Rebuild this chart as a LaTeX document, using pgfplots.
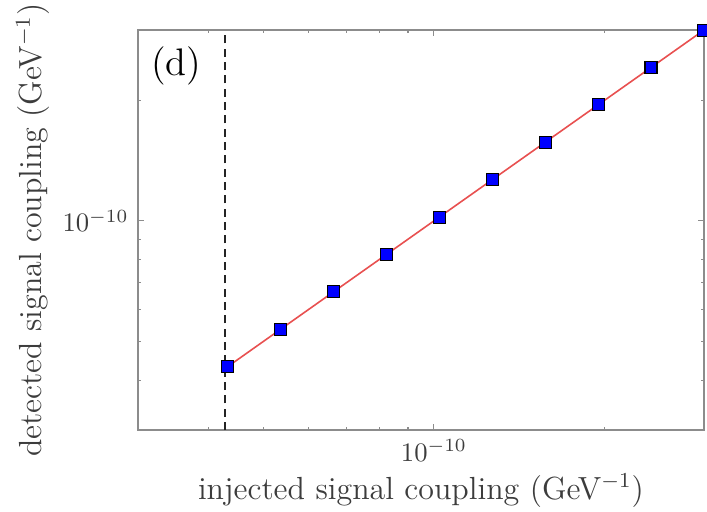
\documentclass[border=0pt]{standalone}
\usepackage{pgfplots}
\pgfplotsset{compat=1.18}
\definecolor{axgray}{RGB}{140,140,140}
\definecolor{fitred}{RGB}{232,80,80}
\definecolor{txtgray}{RGB}{60,60,60}
\begin{document}
\begin{tikzpicture}
\begin{axis}[
  scale only axis,
  width=212.25pt, height=150pt,
  xmode=log, ymode=log,
  xmin=3e-11, xmax=3e-10,
  ymin=3e-11, ymax=3e-10,
  axis line style={axgray, line width=0.5pt},
  tick style={axgray, line width=0.4pt},
  major tick length=2.4pt,
  minor tick length=1.3pt,
  tick align=inside,
  xtick={1e-10}, ytick={1e-10},
  minor xtick={4e-11,5e-11,6e-11,7e-11,8e-11,9e-11,2e-10},
  minor ytick={4e-11,5e-11,6e-11,7e-11,8e-11,9e-11,2e-10},
  xticklabels={$10^{-10}$}, yticklabels={$10^{-10}$},
  ticklabel style={txtgray},
  xlabel={injected signal coupling (GeV$^{-1}$)},
  ylabel={detected signal coupling (GeV$^{-1}$)},
  label style={txtgray, font=\large},
  xlabel style={yshift=2pt},
  ylabel style={yshift=-2pt},
  clip=false,
]
\addplot[color=fitred, line width=0.6pt] coordinates {
 (4.32e-11,4.32e-11) (3.0e-10,3.0e-10)
};
\addplot[draw=txtgray!60!black, line width=0.7pt, dash pattern=on 3pt off 2pt] coordinates {
 (4.27e-11,3e-11) (4.27e-11,3e-10)
};
\addplot[only marks, mark=square*, mark size=2.25pt,
  mark options={fill=blue, draw=black, line width=0.4pt}] coordinates {
 (4.32e-11,4.32e-11)
 (5.358e-11,5.358e-11)
 (6.645e-11,6.645e-11)
 (8.241e-11,8.241e-11)
 (1.022e-10,1.022e-10)
 (1.268e-10,1.268e-10)
 (1.573e-10,1.573e-10)
 (1.950e-10,1.950e-10)
 (2.418e-10,2.418e-10)
 (2.999e-10,2.999e-10)
};
\node[anchor=center, font=\Large] at (rel axis cs:0.068,0.91) {(d)};
\coordinate (bbsw) at (rel axis cs:0,0);
\coordinate (bbne) at (rel axis cs:1,1);
\end{axis}
\pgfresetboundingbox
\path[use as bounding box] ([xshift=-51.75pt,yshift=-30.4pt]bbsw) rectangle ([xshift=1.1pt,yshift=11.25pt]bbne);
\end{tikzpicture}
\end{document}
